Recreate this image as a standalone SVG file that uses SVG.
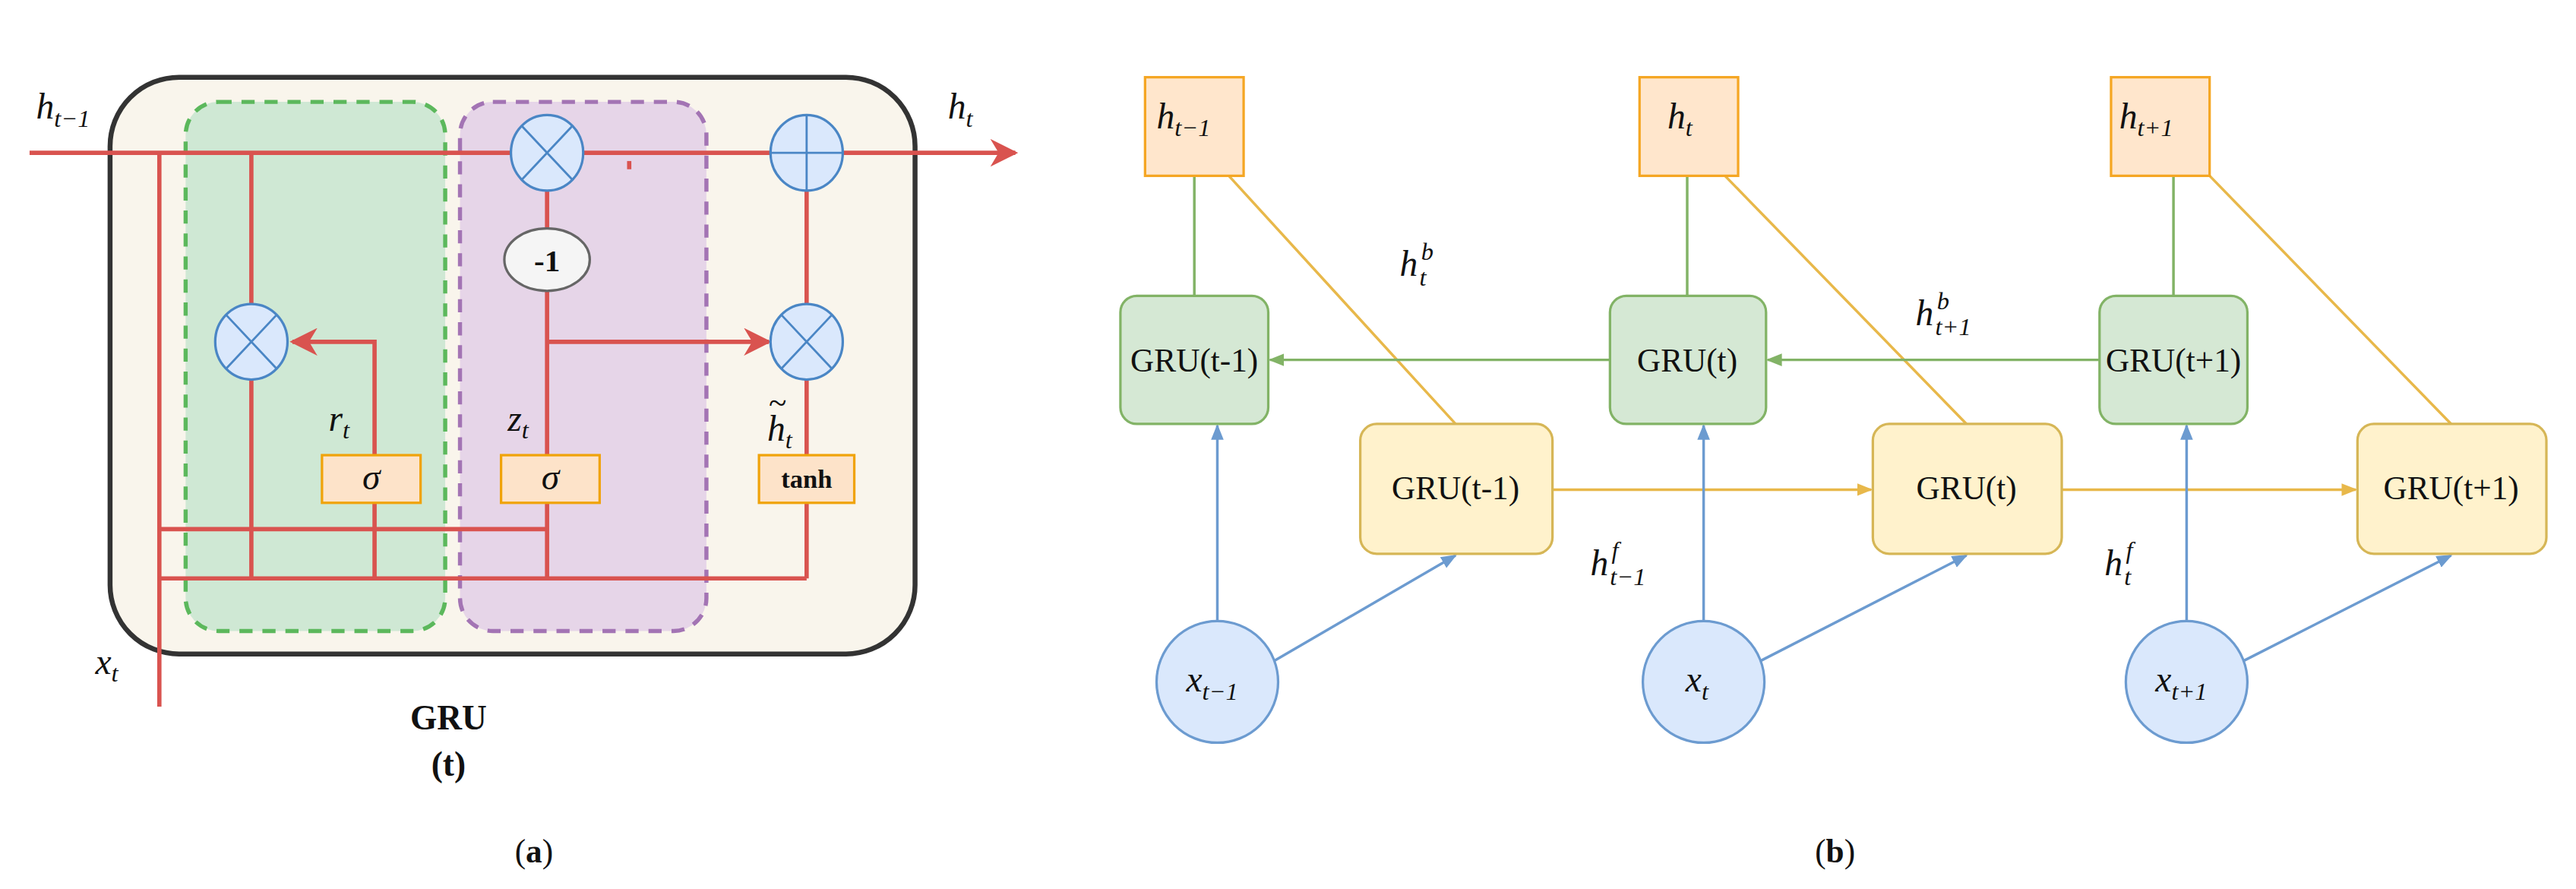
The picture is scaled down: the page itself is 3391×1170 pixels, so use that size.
<svg xmlns="http://www.w3.org/2000/svg" width="3391" height="1170" viewBox="0 0 3391 1170">
<style>
.r{stroke:#d9534f;stroke-width:2.6;fill:none}
.op{fill:#dae8fc;stroke:#4a86c5;stroke-width:1.5}
.opl{stroke:#4a86c5;stroke-width:1.3}
.sg{fill:#fde3c9;stroke:#f0a30a;stroke-width:1.5}
.m{font-family:"Liberation Serif",serif;font-style:italic;font-size:22px;fill:#111}
.s{font-size:15px}
.t{font-family:"Liberation Serif",serif;font-size:20px;fill:#111}
.b{font-family:"Liberation Serif",serif;font-weight:bold;fill:#111}
.ob{fill:#ffe6cc;stroke:#f5a623;stroke-width:1.5}
.gb{fill:#d5e8d4;stroke:#82b366;stroke-width:1.5}
.yb{fill:#fff2cc;stroke:#d6b656;stroke-width:1.5}
.xc{fill:#dae8fc;stroke:#6c9bd0;stroke-width:1.5}
.gl{stroke:#82b366;stroke-width:1.6;fill:none}
.yl{stroke:#e8b84a;stroke-width:1.6;fill:none}
.bl{stroke:#6c9bd0;stroke-width:1.6;fill:none}
</style>
<defs>
<marker id="ar" viewBox="0 0 10 10" refX="9" refY="5" markerWidth="6.5" markerHeight="6.5" orient="auto"><path d="M0,0L10,5L0,10L3,5z" fill="#d9534f"/></marker>
<marker id="ag" viewBox="0 0 10 10" refX="9" refY="5" markerWidth="6" markerHeight="6" orient="auto"><path d="M0,1L10,5L0,9z" fill="#82b366"/></marker>
<marker id="ay" viewBox="0 0 10 10" refX="9" refY="5" markerWidth="6" markerHeight="6" orient="auto"><path d="M0,1L10,5L0,9z" fill="#e8b84a"/></marker>
<marker id="ab" viewBox="0 0 10 10" refX="9" refY="5" markerWidth="6" markerHeight="6" orient="auto"><path d="M0,1L10,5L0,9z" fill="#6c9bd0"/></marker>
</defs>
<rect width="3391" height="1170" fill="#fff"/>
<g transform="scale(2.1626)">
<g id="cell">
<rect x="67" y="47" width="490" height="351" rx="42" fill="#f9f5ec" stroke="#333" stroke-width="3"/>
<rect x="113" y="62" width="158" height="322" rx="20" fill="#cfe8d4" stroke="#5cb85c" stroke-width="2.5" stroke-dasharray="8,6"/>
<rect x="280" y="62" width="150" height="322" rx="20" fill="#e6d5e8" stroke="#a374b4" stroke-width="2.5" stroke-dasharray="8,6"/>
</g>
<g id="connectors-a">
<path class="r" d="M18,93H618" marker-end="url(#ar)"/>
<path class="r" d="M97,93V430"/>
<path class="r" d="M153,93V186M153,231V352M97,322H333M97,352H491"/>
<path class="r" d="M228,306V352M228,277V208H178" marker-end="url(#ar)"/>
<path class="r" d="M333,115V139M333,177V352M333,208H468" marker-end="url(#ar)"/>
<path class="r" d="M491,115V186M491,231V277M491,306V352"/>
<path class="r" d="M383,98V103"/>
</g>
<g id="mul-r"><ellipse class="op" cx="153" cy="208" rx="22" ry="23"/><path class="opl" d="M137.5,191.5L168.5,224.5M168.5,191.5L137.5,224.5"/></g>
<g id="mul-top"><ellipse class="op" cx="333" cy="93" rx="22" ry="23"/><path class="opl" d="M317.5,76.5L348.5,109.5M348.5,76.5L317.5,109.5"/></g>
<g id="plus"><ellipse class="op" cx="491" cy="93" rx="22" ry="23"/><path class="opl" d="M491,70V116M469,93H513"/></g>
<g id="mul-h"><ellipse class="op" cx="491" cy="208" rx="22" ry="23"/><path class="opl" d="M475.5,191.5L506.5,224.5M506.5,191.5L475.5,224.5"/></g>
<g id="neg"><ellipse cx="333" cy="158" rx="26" ry="19" fill="#f5f5f5" stroke="#666" stroke-width="1.5"/><text x="333" y="165" text-anchor="middle" class="b" font-size="19">-1</text></g>
<g id="sig-r"><rect class="sg" x="196" y="277" width="60" height="29"/><text x="226" y="298" text-anchor="middle" class="m">σ</text></g>
<g id="sig-z"><rect class="sg" x="305" y="277" width="60" height="29"/><text x="335" y="298" text-anchor="middle" class="m">σ</text></g>
<g id="tanh"><rect class="sg" x="462" y="277" width="58" height="29"/><text x="491" y="297" text-anchor="middle" class="b" font-size="16">tanh</text></g>
<g id="labels-a">
<text x="22" y="72" class="m">h<tspan class="s" dy="5">t−1</tspan></text>
<text x="577" y="72" class="m">h<tspan class="s" dy="5">t</tspan></text>
<text x="200" y="262" class="m">r<tspan class="s" dy="5">t</tspan></text>
<text x="309" y="262" class="m">z<tspan class="s" dy="5">t</tspan></text>
<text x="467" y="268" class="m">h<tspan class="s" dy="5">t</tspan></text>
<text x="468" y="252" class="t" font-size="15">~</text>
<text x="58" y="410" class="m">x<tspan class="s" dy="5">t</tspan></text>
<text x="273" y="444" text-anchor="middle" class="b" font-size="21">GRU</text>
<text x="273" y="472" text-anchor="middle" class="b" font-size="21">(t)</text>
<text x="325" y="525" text-anchor="middle" class="t" font-size="26">(<tspan font-weight="bold">a</tspan>)</text>
</g>
<g id="connectors-b">
<path class="gl" d="M727,107V180M1027,107V180M1323,107V180"/>
<path class="yl" d="M748,107L886,258M1050,107L1197,258M1345,107L1492,258"/>
<path class="gl" d="M980,219H773" marker-end="url(#ag)"/>
<path class="gl" d="M1278,219H1076" marker-end="url(#ag)"/>
<path class="yl" d="M945,298H1139" marker-end="url(#ay)"/>
<path class="yl" d="M1255,298H1434" marker-end="url(#ay)"/>
<path class="bl" d="M741,378V259" marker-end="url(#ab)"/>
<path class="bl" d="M1037,378V259" marker-end="url(#ab)"/>
<path class="bl" d="M1331,378V259" marker-end="url(#ab)"/>
<path class="bl" d="M776,402L886,338" marker-end="url(#ab)"/>
<path class="bl" d="M1072,402L1197,338" marker-end="url(#ab)"/>
<path class="bl" d="M1366,402L1492,338" marker-end="url(#ab)"/>
</g>
<g id="h0"><rect class="ob" x="697" y="47" width="60" height="60"/><text x="704" y="78" class="m">h<tspan class="s" dy="5">t−1</tspan></text></g>
<g id="h1"><rect class="ob" x="998" y="47" width="60" height="60"/><text x="1015" y="78" class="m">h<tspan class="s" dy="5">t</tspan></text></g>
<g id="h2"><rect class="ob" x="1285" y="47" width="60" height="60"/><text x="1290" y="78" class="m">h<tspan class="s" dy="5">t+1</tspan></text></g>
<g id="gb0"><rect class="gb" x="682" y="180" width="90" height="78" rx="10"/><text x="727" y="226" text-anchor="middle" class="t">GRU(t-1)</text></g>
<g id="gb1"><rect class="gb" x="980" y="180" width="95" height="78" rx="10"/><text x="1027" y="226" text-anchor="middle" class="t">GRU(t)</text></g>
<g id="gb2"><rect class="gb" x="1278" y="180" width="90" height="78" rx="10"/><text x="1323" y="226" text-anchor="middle" class="t">GRU(t+1)</text></g>
<g id="yb0"><rect class="yb" x="828" y="258" width="117" height="79" rx="10"/><text x="886" y="304" text-anchor="middle" class="t">GRU(t-1)</text></g>
<g id="yb1"><rect class="yb" x="1140" y="258" width="115" height="79" rx="10"/><text x="1197" y="304" text-anchor="middle" class="t">GRU(t)</text></g>
<g id="yb2"><rect class="yb" x="1435" y="258" width="115" height="79" rx="10"/><text x="1492" y="304" text-anchor="middle" class="t">GRU(t+1)</text></g>
<g id="x0"><circle class="xc" cx="741" cy="415" r="37"/><text x="722" y="421" class="m">x<tspan class="s" dy="5">t−1</tspan></text></g>
<g id="x1"><circle class="xc" cx="1037" cy="415" r="37"/><text x="1026" y="421" class="m">x<tspan class="s" dy="5">t</tspan></text></g>
<g id="x2"><circle class="xc" cx="1331" cy="415" r="37"/><text x="1312" y="421" class="m">x<tspan class="s" dy="5">t+1</tspan></text></g>
<g id="labels-b">
<text x="852" y="168" class="m">h</text><text x="864" y="174" class="m s">t</text><text x="865" y="158" class="m s">b</text>
<text x="1166" y="198" class="m">h</text><text x="1178" y="204" class="m s">t+1</text><text x="1179" y="188" class="m s">b</text>
<text x="968" y="350" class="m">h</text><text x="980" y="356" class="m s">t−1</text><text x="981" y="340" class="m s">f</text>
<text x="1281" y="350" class="m">h</text><text x="1293" y="356" class="m s">t</text><text x="1294" y="340" class="m s">f</text>
<text x="1117" y="525" text-anchor="middle" class="t" font-size="26">(<tspan font-weight="bold">b</tspan>)</text>
</g>
</g>
</svg>
